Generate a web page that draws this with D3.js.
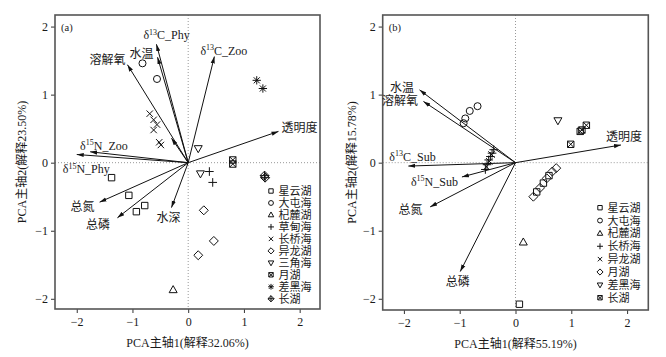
<!DOCTYPE html>
<html><head><meta charset="utf-8">
<script src="https://cdn.jsdelivr.net/npm/d3@7"></script>
<style>
body{margin:0;background:#fff}
svg{display:block}
text{font-family:"Liberation Serif","Times New Roman","Noto Sans CJK SC",serif;fill:#1a1a1a}
</style>
</head><body>
<svg id="c" width="666" height="357"></svg>
<script>
// ---------------- Panel (a) data ----------------
const lakesA = ["星云湖","大屯海","杞麓湖","草甸海","长桥海","异龙湖","三角海","月湖","差黑海","长湖"];
const siteLakeA = [0,0,0,0, 1,1, 2, 3,3, 4,4,4,4,4,4, 5,5,5, 6,6, 7,7, 8,8, 9,9];
const siteXA = [-1.375,-1.065,-0.93,-0.78, -0.82,-0.56, -0.27, 0.38,0.44, -0.69,-0.62,-0.56,-0.62,-0.52,-0.49, 0.28,0.46,0.18, 0.18,0.22, 0.80,0.80, 1.23,1.34, 1.37,1.38];
const siteYA = [-0.22,-0.48,-0.72,-0.63, 1.46,1.23, -1.87, -0.13,-0.29, 0.72,0.63,0.56,0.48,0.30,0.26, -0.70,-1.15,-1.36, 0.21,-0.16, 0.04,-0.02, 1.21,1.09, -0.19,-0.22];
const varsA = ["溶解氧","水温","δ13C_Phy","δ13C_Zoo","透明度","δ15N_Zoo","δ15N_Phy","","总氮","总磷","水深"];
const loadXA = [-1.09,-0.55,-0.57,0.47,1.62,-1.76,-2.00,-0.30,-1.59,-1.27,-0.30];
const loadYA = [1.44,1.55,1.74,1.56,0.46,0.16,0.12,0.36,-0.58,-0.81,-0.66];
const axisTitlesA = ["PCA主轴1(解释32.06%)","PCA主轴2(解释23.50%)"];

// ---------------- Panel (b) data ----------------
const lakesB = ["星云湖","大屯海","杞麓湖","长桥海","异龙湖","月湖","差黑海","长湖"];
const siteLakeB = [0,0,0,0, 1,1,1,1, 2, 3,3,3,3,3,3, 4,4,4, 5,5,5,5,5, 6, 7,7,7,7];
const siteXB = [0.07,0.38,0.50,0.60, -0.93,-0.90,-0.82,-0.68, 0.14, -0.54,-0.51,-0.48,-0.45,-0.42,-0.39, -0.52,-0.47,-0.43, 0.32,0.44,0.56,0.66,0.73, 0.76, 1.27,1.19,1.16,0.99];
const siteYB = [-2.08,-0.43,-0.30,-0.19, 0.58,0.65,0.76,0.83, -1.17, -0.10,-0.03,0.04,0.09,0.14,0.19, -0.06,0.02,0.12, -0.50,-0.37,-0.23,-0.13,-0.08, 0.62, 0.55,0.48,0.46,0.27];
const varsB = ["水温","溶解氧","δ13C_Sub","δ15N_Sub","总氮","总磷","透明度"];
const loadXB = [-1.72,-1.65,-1.92,-0.96,-1.53,-0.99,1.89];
const loadYB = [1.07,0.90,-0.05,-0.21,-0.65,-1.60,0.26];
const axisTitlesB = ["PCA主轴1(解释55.19%)","PCA主轴2(解释15.78%)"];

const tickVals = [-2,-1,0,1,2];

// ---------------- styles / layout (not data) ----------------
const symbolsA = ["square","circle","triangle","plus","cross","diamond","triangleDown","boxX","asterisk","diamondPlus"];
const symbolsB = ["square","circle","triangle","plus","cross","diamond","triangleDown","boxX"];
// label placement relative to arrow tip: [anchor, dx, dy]
const labelPosA = {"溶解氧":["end",-2,-5],"水温":["end",-4,-3],"δ13C_Phy":["start",-13,-9],"δ13C_Zoo":["start",-14,-6],
  "透明度":["start",3,-3.5],"δ15N_Zoo":["start",-10,-6],"δ15N_Phy":["start",-14,14.5],"总氮":["end",-5,5],"总磷":["end",-7.5,7.5],"水深":["middle",-3,10]};
const labelPosB = {"水温":["end",-5.5,-2],"溶解氧":["end",-5.5,-0.5],"δ13C_Sub":["start",-19,-9.4],"δ15N_Sub":["start",-51,4.7],
  "总氮":["end",-7.5,3],"总磷":["middle",-2.6,10],"透明度":["start",-15,-8.3]};

const svg = d3.select("#c");
const defs = svg.append("defs");
defs.append("marker").attr("id","ah").attr("viewBox","0 0 10 10").attr("refX",10).attr("refY",5)
  .attr("markerWidth",7).attr("markerHeight",7).attr("markerUnits","userSpaceOnUse").attr("orient","auto")
  .append("path").attr("d","M0,2 L10,5 L0,8 Z").attr("fill","#111");

function drawMarker(g, type, cx, cy, s){
  const st = p => p.attr("fill","none").attr("stroke","#111").attr("stroke-width",1);
  const path = d => st(g.append("path").attr("d",d));
  const sq = () => path(`M${cx-s},${cy-s}H${cx+s}V${cy+s}H${cx-s}Z`);
  const cr = k => path(`M${cx-s*k},${cy-s*k}L${cx+s*k},${cy+s*k}M${cx-s*k},${cy+s*k}L${cx+s*k},${cy-s*k}`);
  const pl = k => path(`M${cx-s*k},${cy}H${cx+s*k}M${cx},${cy-s*k}V${cy+s*k}`);
  const dm = k => path(`M${cx},${cy-s*k}L${cx+s*k},${cy}L${cx},${cy+s*k}L${cx-s*k},${cy}Z`);
  switch(type){
    case "square": sq(); break;
    case "circle": st(g.append("circle").attr("cx",cx).attr("cy",cy).attr("r",s*1.1)); break;
    case "triangle": path(`M${cx},${cy-s*1.35}L${cx+s*1.25},${cy+s*0.85}L${cx-s*1.25},${cy+s*0.85}Z`); break;
    case "triangleDown": path(`M${cx},${cy+s*1.35}L${cx+s*1.25},${cy-s*0.85}L${cx-s*1.25},${cy-s*0.85}Z`); break;
    case "plus": pl(1.35); break;
    case "cross": cr(1.0); break;
    case "diamond": dm(1.4); break;
    case "boxX": sq(); cr(1.0); break;
    case "asterisk": pl(1.3); cr(0.95); break;
    case "diamondPlus": dm(1.4); pl(1.4); break;
  }
}

function richText(sel, str){
  const m = str.match(/^δ(\d+)(.*)$/);
  if(!m){ sel.text(str); return; }
  sel.append("tspan").text("δ");
  sel.append("tspan").attr("font-size","8px").attr("dy",-4.5).text(m[1]);
  sel.append("tspan").attr("dy",4.5).text(m[2]);
}

function panel(o){
  const g = svg.append("g");
  const x = d3.scaleLinear().domain(o.xd).range([o.left,o.right]);
  const y = d3.scaleLinear().domain(o.yd).range([o.bottom,o.top]);
  g.append("line").attr("x1",x(0)).attr("x2",x(0)).attr("y1",o.top).attr("y2",o.bottom)
    .attr("stroke","#999").attr("stroke-width",1).attr("stroke-dasharray","1,2");
  g.append("line").attr("x1",o.left).attr("x2",o.right).attr("y1",y(0)).attr("y2",y(0))
    .attr("stroke","#999").attr("stroke-width",1).attr("stroke-dasharray","1,2");
  const fmt = d => d<0 ? "−"+Math.abs(d) : String(d);
  const ax = g.append("g").attr("transform",`translate(0,${o.bottom})`)
    .call(d3.axisBottom(x).tickValues(tickVals).tickSize(4).tickPadding(4).tickFormat(fmt));
  const ay = g.append("g").attr("transform",`translate(${o.left},0)`)
    .call(d3.axisLeft(y).tickValues(tickVals).tickSize(4).tickPadding(3).tickFormat(fmt));
  [ax,ay].forEach(a=>{
    a.select(".domain").remove();
    a.selectAll("line").attr("stroke","#333");
    a.selectAll("text").attr("font-size","12px").attr("fill","#1a1a1a")
      .attr("font-family","'Liberation Serif',serif");
  });
  g.append("rect").attr("x",o.left).attr("y",o.top).attr("width",o.right-o.left).attr("height",o.bottom-o.top)
    .attr("fill","none").attr("stroke","#555").attr("stroke-width",1.6);
  g.append("text").attr("x",(o.left+o.right)/2).attr("y",o.bottom+34).attr("text-anchor","middle")
    .attr("dominant-baseline","central").attr("font-size","12px").text(o.titles[0]);
  g.append("text").attr("transform",`translate(${o.ytx},${(o.top+o.bottom)/2}) rotate(-90)`)
    .attr("text-anchor","middle").attr("dominant-baseline","central").attr("font-size","12px").text(o.titles[1]);
  g.append("text").attr("x",o.left+6).attr("y",o.top+12).attr("dominant-baseline","central")
    .attr("font-size","10.5px").text(o.tag);
  o.vars.forEach((v,i)=>{
    const tx = x(o.lx[i]), ty = y(o.ly[i]);
    g.append("line").attr("x1",x(0)).attr("y1",y(0)).attr("x2",tx).attr("y2",ty)
      .attr("stroke","#111").attr("stroke-width",1).attr("marker-end","url(#ah)");
    if(v){
      const lp = o.lpos[v];
      const t = g.append("text").attr("x",tx+lp[1]).attr("y",ty+lp[2]+4).attr("text-anchor",lp[0])
        .attr("font-size","12px");
      richText(t, v);
    }
  });
  o.sx.forEach((sx,i)=>{
    drawMarker(g, o.sym[o.lake[i]], x(sx), y(o.sy[i]), 3.2);
  });
  o.lakes.forEach((l,i)=>{
    const ly = o.legY0 + i*o.legDy;
    drawMarker(g, o.sym[i], o.legX, ly, 2.2);
    g.append("text").attr("x",o.legX+7.5).attr("y",ly).attr("dominant-baseline","central")
      .attr("font-size","11px").text(l);
  });
}

panel({left:55,right:320,top:15,bottom:309,xd:[-2.39,2.365],yd:[-2.15,2.17],
  titles:axisTitlesA,ytx:22,tag:"(a)",vars:varsA,lx:loadXA,ly:loadYA,lpos:labelPosA,
  sx:siteXA,sy:siteYA,lake:siteLakeA,sym:symbolsA,lakes:lakesA,legX:271,legY0:191,legDy:11.97});
panel({left:382.7,right:648.3,top:15,bottom:310,xd:[-2.38,2.38],yd:[-2.165,2.17],
  titles:axisTitlesB,ytx:352,tag:"(b)",vars:varsB,lx:loadXB,ly:loadYB,lpos:labelPosB,
  sx:siteXB,sy:siteYB,lake:siteLakeB,sym:symbolsB,lakes:lakesB,legX:600,legY0:207.7,legDy:12.86});
</script>
</body></html>
